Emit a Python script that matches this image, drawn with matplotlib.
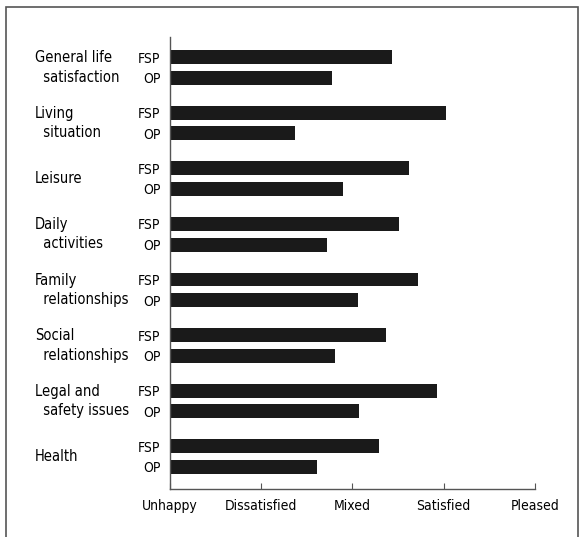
import numpy as np
import matplotlib.pyplot as plt
from matplotlib.patches import Rectangle
from matplotlib.transforms import blended_transform_factory

plt.rcParams['font.family'] = ['DejaVu Sans']
plt.rcParams['font.stretch'] = 'condensed'

categories = ["General life\n  satisfaction", "Living\n  situation", "Leisure",
              "Daily\n  activities", "Family\n  relationships", "Social\n  relationships",
              "Legal and\n  safety issues", "Health"]
fsp = [3.43, 4.02, 3.62, 3.51, 3.72, 3.37, 3.93, 3.29]
op = [2.78, 2.37, 2.90, 2.72, 3.06, 2.81, 3.07, 2.61]
scale_labels = ["Unhappy", "Dissatisfied", "Mixed", "Satisfied", "Pleased"]
scale_vals = [1, 2, 3, 4, 5]

fig = plt.figure(figsize=(5.8, 5.37), dpi=100)
ax = fig.add_axes([170/580, 1-489/537, (535-170)/580, (489-37)/537])

# frame around the whole figure
fig.patches.append(Rectangle((6/580, -0.05), (578-6)/580, 1.05-7/537,
                             transform=fig.transFigure, fill=False,
                             edgecolor='#555555', linewidth=1.2))

idx = np.arange(len(categories))
off = 0.186
h = 0.25
ax.barh(idx - off, np.array(fsp) - 1, left=1, height=h, color='#1a1a1a')
ax.barh(idx + off, np.array(op) - 1, left=1, height=h, color='#1a1a1a')

ax.set_xlim(1, 5)
ax.set_ylim(7.583, -0.548)

yt = np.concatenate([idx - off, idx + off])
ax.set_yticks(yt)
ax.set_yticklabels(["FSP"] * len(idx) + ["OP"] * len(idx), fontsize=10)
ax.tick_params(axis='y', length=0, pad=7)

ax.set_xticks(scale_vals)
ax.set_xticklabels(scale_labels, fontsize=10)
ax.tick_params(axis='x', direction='in', length=4, pad=7, color='#555555')

for s in ['top', 'right']:
    ax.spines[s].set_visible(False)
for s in ['left', 'bottom']:
    ax.spines[s].set_color('#555555')
    ax.spines[s].set_linewidth(1.0)

tr = blended_transform_factory(fig.transFigure, ax.transData)
for i, c in enumerate(categories):
    ax.text(35/580, i, c, transform=tr, ha='left', va='center',
            fontsize=10.5, linespacing=1.35)

fig.savefig("out.png", dpi=100)
